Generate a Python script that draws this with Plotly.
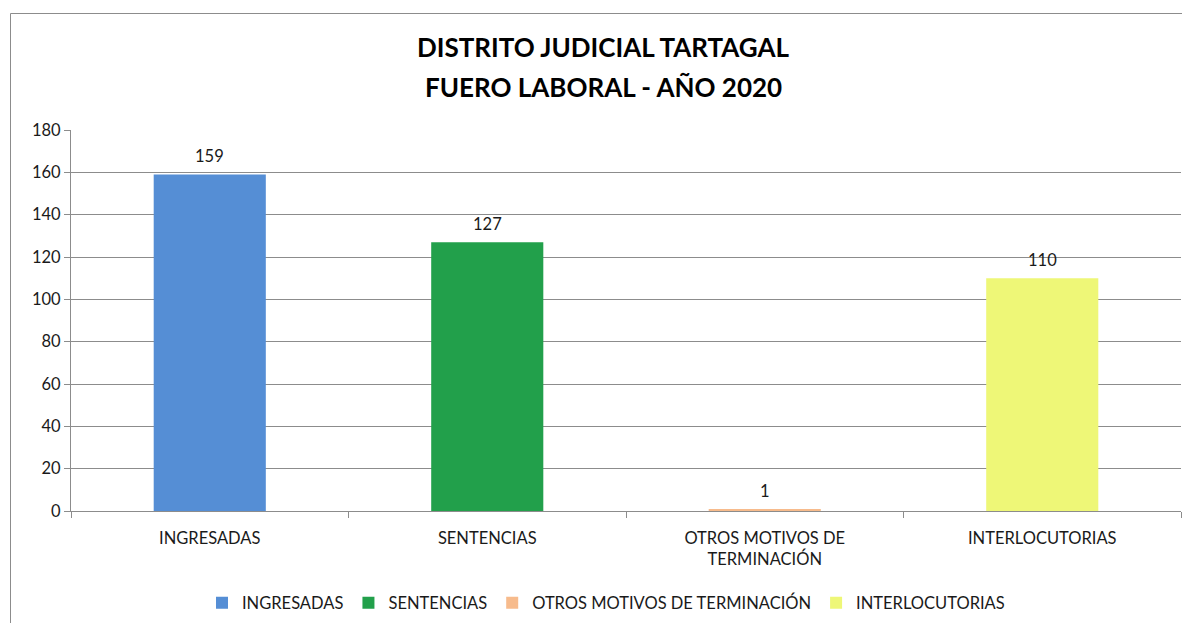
import plotly.graph_objects as go

categories = ["INGRESADAS", "SENTENCIAS", "OTROS MOTIVOS DE<br>TERMINACIÓN", "INTERLOCUTORIAS"]
legend_names = ["INGRESADAS", "SENTENCIAS", "OTROS MOTIVOS DE TERMINACIÓN", "INTERLOCUTORIAS"]
values = [159, 127, 1, 110]
colors = ["#558ED5", "#22A04B", "#F7BB8C", "#EEF777"]
y_ticks = [0, 20, 40, 60, 80, 100, 120, 140, 160, 180]
title_lines = ["DISTRITO JUDICIAL TARTAGAL", "FUERO LABORAL - AÑO 2020"]

FONT = "Lato"
FS = 16.5
TXT = "#1a1a1a"
GRID = "#8c8c8c"

# page body has an 8px margin; work in page pixel coordinates
OFF = 8
W, H = 1190 - OFF, 623 - OFF
PL, PR, PT, PB = 71, 1181, 130, 511  # plot area in page pixels
L, R, T, B = PL - OFF, (1190 - OFF) - (PR - OFF), PT - OFF, H - (PB - OFF)
pw, ph = W - L - R, H - T - B

def px_x(x):
    return (x - OFF - L) / pw

def px_y(y):
    return (H - B - (y - OFF)) / ph

fig = go.Figure()
for cat, name, v, c in zip(categories, legend_names, values, colors):
    fig.add_trace(go.Bar(
        x=[cat], y=[v], name=name, marker=dict(color=c, line=dict(width=0)),
        hoverinfo="x+y",
    ))
    fig.add_annotation(x=cat, y=v, xref="x", yref="y", text=str(v), showarrow=False,
                       yanchor="middle", yshift=18,
                       font=dict(family=FONT, size=FS, color=TXT))

fig.update_layout(
    width=W, height=H,
    margin=dict(l=L, r=R, t=T, b=B, autoexpand=False),
    paper_bgcolor="white", plot_bgcolor="white",
    barmode="group", bargap=0.596,
    showlegend=True,
    legend=dict(orientation="h", x=px_x(606), xanchor="center", y=px_y(603), yanchor="middle",
                font=dict(family=FONT, size=FS, color=TXT), itemwidth=30,
                traceorder="normal"),
    font=dict(family=FONT, size=FS, color=TXT),
)
fig.update_xaxes(
    type="category", categoryorder="array", categoryarray=categories,
    showline=True, linecolor=GRID, linewidth=1,
    ticks="outside", tickson="boundaries", ticklen=6, tickcolor=GRID,
    showgrid=False, tickfont=dict(family=FONT, size=FS, color=TXT),
    ticklabelstandoff=12,
)
fig.update_yaxes(
    range=[0, 180], tickvals=y_ticks, showline=True, linecolor=GRID, linewidth=1,
    ticks="outside", ticklen=6, tickcolor=GRID,
    showgrid=True, gridcolor=GRID, gridwidth=1, zeroline=False,
    tickfont=dict(family=FONT, size=FS, color=TXT),
)
for t, yp in zip(title_lines, [47, 87]):
    fig.add_annotation(text="<b>%s</b>" % t, xref="paper", yref="paper",
                       x=px_x(603), y=px_y(yp), xanchor="center", yanchor="middle",
                       showarrow=False, font=dict(family=FONT, size=26, color="#000"))
fig.add_shape(type="rect", xref="paper", yref="paper",
              x0=px_x(10.5), x1=px_x(1200), y0=px_y(13.5), y1=px_y(650),
              line=dict(color=GRID, width=1), layer="below")

fig.write_html("out.html")
